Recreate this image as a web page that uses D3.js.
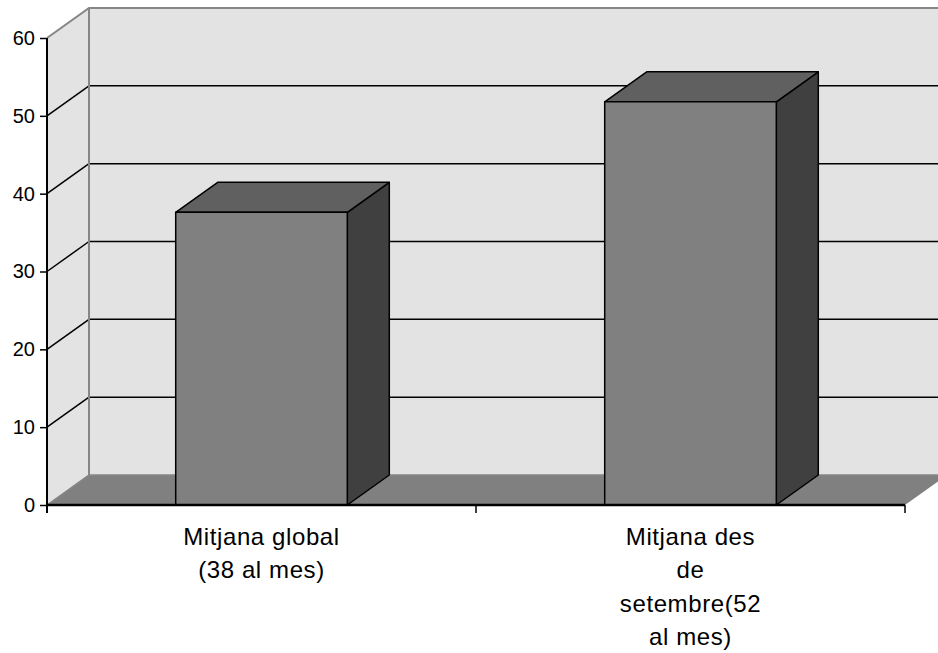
<!DOCTYPE html>
<html>
<head>
<meta charset="utf-8">
<script src="https://cdn.jsdelivr.net/npm/d3@7"></script>
<style>
  body { margin: 0; background: #fff; }
  svg { display: block; font-family: "Liberation Sans", Arial, sans-serif; }
</style>
</head>
<body>
<svg id="chart"></svg>
<script>
// chart data
var categories = ["Mitjana global (38 al mes)", "Mitjana des de setembre(52 al mes)"];
var labelLines = [["Mitjana global", "(38 al mes)"], ["Mitjana des", "de", "setembre(52", "al mes)"]];
var values = [37.6, 51.8];
var yTicks = [0, 10, 20, 30, 40, 50, 60];

var width = 938, height = 653;
var margin = { left: 47, right: 33, top: 38, bottom: 148 };
// 3d depth offset of the back wall
var dx = 42, dy = -30;

var svg = d3.select("#chart")
    .attr("width", width)
    .attr("height", height);

var x = d3.scaleBand()
    .domain(categories)
    .range([margin.left, width - margin.right]);

var y = d3.scaleLinear()
    .domain([0, 60])
    .range([height - margin.bottom, margin.top]);

var x0 = x.range()[0], x1 = x.range()[1];
var barW = x.bandwidth() * 0.4;

var wallFill = "#e3e3e3", edgeGray = "#868686";

function pts(a) { return a.map(p => p.join(",")).join(" "); }

// left side wall
svg.append("polygon")
    .attr("points", pts([[x0, y(0)], [x0, y(60)], [x0 + dx, y(60) + dy], [x0 + dx, y(0) + dy]]))
    .attr("fill", wallFill);

// back wall
svg.append("rect")
    .attr("x", x0 + dx).attr("y", y(60) + dy)
    .attr("width", x1 - x0 + 10).attr("height", y(0) - y(60))
    .attr("fill", wallFill);

// floor
svg.append("polygon")
    .attr("points", pts([[x0, y(0)], [x1, y(0)], [x1 + dx, y(0) + dy], [x0 + dx, y(0) + dy]]))
    .attr("fill", "#808080");

// gridlines
var grid = svg.append("g").attr("stroke", "#000").attr("stroke-width", 1.5);
yTicks.filter(v => v > 0 && v < 60).forEach(v => {
    grid.append("line")
        .attr("x1", x0).attr("y1", y(v))
        .attr("x2", x0 + dx).attr("y2", y(v) + dy);
    grid.append("line")
        .attr("x1", x0 + dx).attr("y1", y(v) + dy)
        .attr("x2", x1 + dx + 10).attr("y2", y(v) + dy);
});

// wall edges
var edges = svg.append("g").attr("stroke", edgeGray).attr("stroke-width", 2).attr("fill", "none");
edges.append("polyline")
    .attr("points", pts([[x0, y(60)], [x0 + dx, y(60) + dy], [x1 + dx + 10, y(60) + dy]]));
edges.append("line")
    .attr("x1", x0 + dx).attr("y1", y(60) + dy)
    .attr("x2", x0 + dx).attr("y2", y(0) + dy);
edges.append("polyline")
    .attr("stroke-width", 1.5)
    .attr("points", pts([[x0, y(0)], [x0 + dx, y(0) + dy], [x1 + dx + 10, y(0) + dy]]));

// bars
var bars = svg.append("g")
    .attr("stroke", "#000")
    .attr("stroke-width", 1.5)
    .attr("stroke-linejoin", "round");

categories.forEach((c, i) => {
    var bx = x(c) + (x.bandwidth() - barW) / 2;
    var top = y(values[i]), bot = y(0);
    bars.append("polygon")
        .attr("fill", "#404040")
        .attr("points", pts([[bx + barW, bot], [bx + barW, top], [bx + barW + dx, top + dy], [bx + barW + dx, bot + dy]]));
    bars.append("polygon")
        .attr("fill", "#606060")
        .attr("points", pts([[bx, top], [bx + barW, top], [bx + barW + dx, top + dy], [bx + dx, top + dy]]));
    bars.append("rect")
        .attr("fill", "#808080")
        .attr("x", bx).attr("y", top)
        .attr("width", barW).attr("height", bot - top);
});

// y axis
var yAxis = svg.append("g")
    .attr("transform", `translate(${x0},0)`)
    .call(d3.axisLeft(y).tickValues(yTicks).tickSize(7).tickPadding(5).tickSizeOuter(0));
yAxis.select(".domain").attr("stroke", "#000").attr("stroke-width", 2)
    .attr("d", `M0,${y(60)}V${y(0) + 8}`);
yAxis.selectAll(".tick line").attr("stroke", "#000").attr("stroke-width", 1.5);
yAxis.selectAll(".tick text")
    .attr("font-family", "Liberation Sans, Arial, sans-serif")
    .attr("font-size", 20)
    .attr("fill", "#000");

// x axis
var xAxis = svg.append("g")
    .attr("transform", `translate(0,${y(0)})`);
xAxis.append("line")
    .attr("x1", x0).attr("x2", x1)
    .attr("stroke", "#000").attr("stroke-width", 2.5);
[x0].concat(categories.map(c => x(c) + x.bandwidth())).forEach(t => {
    xAxis.append("line")
        .attr("x1", t).attr("x2", t)
        .attr("y1", 0).attr("y2", 8)
        .attr("stroke", "#000").attr("stroke-width", 1.5);
});

// category labels
categories.forEach((c, i) => {
    var t = svg.append("text")
        .attr("text-anchor", "middle")
        .attr("font-size", 24)
        .attr("letter-spacing", 0.6)
        .attr("fill", "#000");
    labelLines[i].forEach((line, k) => {
        t.append("tspan")
            .attr("x", x(c) + x.bandwidth() / 2)
            .attr("y", 545 + k * 33.3)
            .text(line);
    });
});
</script>
</body>
</html>
